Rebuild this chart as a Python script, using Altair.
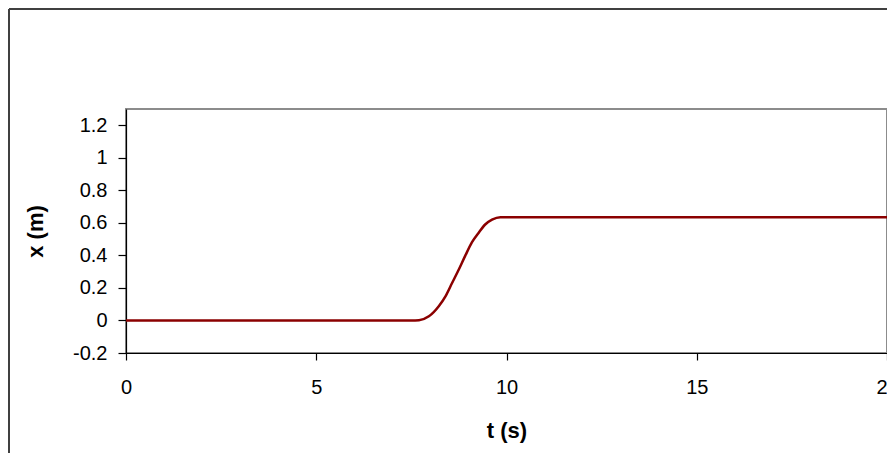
import altair as alt
import pandas as pd

# Data
t_values = [0, 7.50, 7.70, 7.96, 8.22, 8.40, 8.57, 8.74, 8.92, 9.09, 9.27, 9.44, 9.62, 9.84, 20]
x_values = [0, 0, 0.002, 0.026, 0.088, 0.15, 0.23, 0.31, 0.40, 0.48, 0.54, 0.59, 0.62, 0.635, 0.635]
x_ticks = [0, 5, 10, 15, 20]
y_ticks = [-0.2, 0, 0.2, 0.4, 0.6, 0.8, 1.0, 1.2]

df = pd.DataFrame({"t": t_values, "x": x_values})

FONT = "Liberation Sans"

line = alt.Chart(df).mark_line(color="#8B0000", strokeWidth=2.5, interpolate="monotone").encode(
    x=alt.X(
        "t:Q",
        scale=alt.Scale(domain=[0, 20], nice=False, zero=False),
        axis=alt.Axis(
            values=x_ticks,
            title="t (s)",
            grid=False,
            tickSize=7,
            labelPadding=17,
            titlePadding=23,
            labelFlush=False,
        ),
    ),
    y=alt.Y(
        "x:Q",
        scale=alt.Scale(domain=[-0.2, 1.3], nice=False, zero=False),
        axis=alt.Axis(
            values=y_ticks,
            title="x (m)",
            grid=False,
            tickSize=8,
            labelPadding=11,
            titlePadding=25,
            labelFlush=False,
            labelExpr="datum.value < 0 ? '-' + format(-datum.value, '.1~f') : format(datum.value, '.1~f')",
        ),
    ),
)

border_top = alt.Chart(df).mark_rule(color="#404040", strokeWidth=2).encode(
    x=alt.value(-117), x2=alt.value(900), y=alt.value(-100)
)
border_left = alt.Chart(df).mark_rule(color="#404040", strokeWidth=2).encode(
    x=alt.value(-117), y=alt.value(-100), y2=alt.value(500)
)

chart = (
    alt.layer(border_top, border_left, line)
    .properties(
        width=761,
        height=244,
        autosize=alt.AutoSizeParams(type="none"),
        padding={"left": 118, "top": 101, "right": 0, "bottom": 100},
        background="white",
    )
    .configure_view(stroke="#8c8c8c", strokeWidth=2)
    .configure_axis(
        labelFont=FONT,
        titleFont=FONT,
        labelFontSize=20,
        titleFontSize=22,
        titleFontWeight="bold",
        labelColor="black",
        titleColor="black",
        domainColor="black",
        tickColor="black",
        domainWidth=1.2,
        tickWidth=1.2,
    )
)

chart.save("out.html", embed_options={"renderer": "svg", "actions": False})
